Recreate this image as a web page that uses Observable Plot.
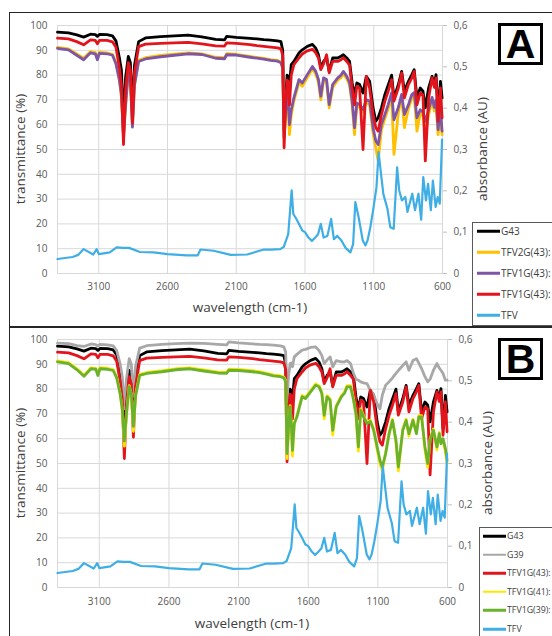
<!DOCTYPE html>
<html><head><meta charset="utf-8">
<script src="https://cdn.jsdelivr.net/npm/d3@7"></script>
<script src="https://cdn.jsdelivr.net/npm/@observablehq/plot@0.6"></script>
<style>
html,body{margin:0;padding:0;background:#fff;}
#root{position:relative;width:552px;height:636px;overflow:hidden;background:#fff;font-family:"Open Sans",sans-serif;}
.panel{position:absolute;border:1.5px solid #262626;box-sizing:border-box;}
.plotwrap{position:absolute;left:0;}
.title{position:absolute;font-size:13.5px;color:#404040;white-space:nowrap;transform:translate(-50%,-50%);}
.rot{transform:translate(-50%,-50%) rotate(-90deg);}
.letter{position:absolute;border:3px solid #000;box-sizing:border-box;background:#fff;font-family:"Liberation Sans",Arial,sans-serif;font-weight:bold;text-align:center;color:#000;}
.legend{position:absolute;border:1px solid #595959;background:#fff;box-sizing:border-box;}
.item{position:absolute;white-space:nowrap;color:#404040;transform:translateY(-50%);line-height:1.2;}
.swatch{position:absolute;height:2.5px;transform:translateY(-50%);}
</style></head><body><div id="root"></div>
<script>
// ---------- data ----------
const wavenumbers = [3400,3320,3260,3210,3160,3125,3110,3095,3040,3000,2975,2950,2935,2920,2905,2885,2870,2855,2840,2810,2760,2650,2550,2450,2350,2250,2185,2170,2100,2000,1950,1900,1850,1800,1775,
1762,1752,1742,1730,1723,1713,1700,1681,1644,1620,1583,1546,1522,1502,1485,1465,1443,1424,1399,1362,1338,1321,1296,1276,1257,1240,1223,1203,1178,1154,1130,1105,1085,1068,1044,1019,995,970,953,921,897,877,848,823,806,786,762,742,725,701,676,659,647,632,615,603];

const G43 = [97.3,97.0,96.2,95.3,96.5,96.3,95.6,96.4,96.3,95.8,93.8,87,82,60,79,87.5,85,65,84,93.5,95,95.5,95.8,96.1,95.4,94.4,94.2,95.6,95.2,94.8,94.6,94.3,94.1,93.8,93.5,
90,58,70,80,79.5,76,84.2,85.5,88.9,90.2,91.6,92.4,90.9,88.2,82.9,85.5,86.9,81.5,86.9,86.9,87.6,88.2,86.9,85.5,76.8,72,76.8,76.2,72.8,79.5,77.5,66.8,61.4,62.8,66.8,72.2,76,80,70.8,76.2,81.5,73.5,77.5,80.2,82.2,70.8,74.8,73.5,66.8,74.8,79.5,76.2,80.2,64.1,77.5,70.8];

const TFV1G43 = [94.9,94.6,93.5,92.2,94.2,94.0,92.6,94.0,94.0,93.4,91.2,83,76,52,74,85,82,60.6,81,91.5,92.5,92.8,93.0,93.2,92.6,91.8,91.7,93.0,92.8,92.3,91.9,91.6,91.3,91.0,90.6,
88,50.7,68,78,77.5,68,80,84.2,86.9,88.5,89.8,90.4,89,86.9,82.2,84.5,88.2,80.9,85.5,85.5,86.2,87,85.5,84,74.8,68,75.5,74.8,50,79.5,74.8,64.1,58.8,57.4,64.1,69.5,73.5,78.2,69.5,74.8,80.9,70.8,76.2,78.9,81.5,68,72.8,72,45.4,70.8,78.9,75,78.9,61.4,74.8,62.8];

const TFV1G43b = [90.8,90.2,88.0,86.2,89.0,88.6,86.2,88.8,88.6,88.0,84.6,78,72,55,68,81,78,59,76,85.5,86.5,87.4,88.0,88.6,88.3,86.8,86.6,88.2,88.1,87.2,86.8,86.4,85.9,85.6,85.0,
83,55,65,71.5,70,60,66,70.8,78.2,76.8,80.2,83.5,81.5,78.2,71.5,78.9,78.2,68.1,76.2,78.9,80,81.5,79.5,77,69.5,58.8,68.8,68.1,66.1,70.1,69.5,58.8,53.4,52,60.1,64.1,68.1,72.8,62,67,72.2,64.1,68,72.2,73,62.8,66,65,61.4,66,71,67,70,58,66,57.4];

const TFV2G43 = [91.2,90.6,88.5,86.8,89.5,89.1,86.8,89.3,89.0,88.4,85,78,71,56,67,81.5,78,60,76,86,87,87.9,88.5,89.0,88.6,87.2,87.0,88.6,88.4,87.5,87.1,86.7,86.2,85.9,85.3,
82.5,54,63,70,68,56,64,69.5,77,75.5,79,82.5,80.5,77,70,78,77,66.8,75,78,79,80.5,78.5,76,68,56,67.5,67,65,69,68,56.5,50.7,45.4,58,62.5,66.5,71.5,48,65,71,58.8,66.5,70.5,72,57.4,64.5,63.5,56,64,69.5,65.5,68.5,56,64,56];

const G39 = [98.5,98.3,97.5,97.2,98.2,97.9,97.4,98.0,97.8,97.4,95.5,90,85,72,84,92.3,90,77,89,96.5,97.5,98.0,98.3,98.5,98.4,98.0,97.8,99.0,98.6,98.2,98.0,97.9,97.7,97.4,97.0,
95,75,85,90.3,90.5,89,93,94,95.7,96,96.8,97,95.5,93.5,90.3,91.7,93,89,91.5,91,91,91.5,90.3,86.5,84,83.6,82.9,82.5,82.2,79.5,77.5,74,72.1,77.5,81.6,83,84.5,86.3,87.5,89.5,91,87.6,91.5,92.3,90.5,88.3,85,82.9,84,87.6,90.3,88.5,87.6,86.3,83.6,83.6];

const TFV1G41 = [91.4,90.7,88.2,85.6,88.6,88.4,85.9,88.6,88.4,87.9,84.9,78,71.5,57,69,81.4,78,63,77.4,85.9,86.7,87.4,88.2,88.6,87.7,86.9,86.8,88.0,87.9,87.4,87.0,86.4,85.7,85.4,84.9,
83.5,52,63,73.3,67.5,53,66.5,69.3,77.4,76.7,79.4,82.1,81.4,78.7,68,77.4,76,61.5,73.3,77.4,79,81.4,81.4,76.5,69.5,55,72,69.3,66.6,67.5,63.9,55.5,50,47,54.5,62.5,67.9,58.5,47,63.9,67.9,61,67.9,62.5,69.3,69.3,55.5,48.5,59.9,63.9,55.5,62.5,58.5,59,55,50];

const TFV1G39 = [91.0,90.3,87.8,85.2,88.2,88.0,85.5,88.2,88.0,87.5,84.5,78,72,59,70,81,78,65,77,85.5,86.3,87.0,87.8,88.2,87.3,86.5,86.4,87.6,87.5,87.0,86.6,86.0,85.3,85.0,84.5,
83,54,64,72.8,68,55.3,66,68.8,76.9,76.2,78.9,81.6,80.9,78.2,69.4,76.9,75.5,63.4,72.8,76.9,78.5,80.9,80.9,76,70.1,56.7,71.5,68.8,66.1,67,63.4,56.7,51.3,48.6,54,62,67.4,59.4,48.6,63.4,67.4,62,67.4,62,68.8,68.8,56.7,50,59.4,63.4,56.7,62,58,60,56,51.3];

// TFV absorbance (AU), secondary axis
const tfvWavenumbers = [3400,3290,3250,3210,3140,3115,3100,3020,2970,2925,2880,2800,2700,2600,2460,2380,2360,2265,2140,2020,1900,1850,1780,1755,1722,1697,1685,1670,1650,1620,1600,1575,1550,1525,1505,1485,1465,1437,1410,1390,1365,1335,1305,1270,1250,1234,1210,1180,1160,1145,1125,1105,1080,1065,1050,1030,1000,980,955,930,915,895,870,855,820,800,775,755,740,720,705,685,670,650,635,620,603];
const TFV = [0.035,0.040,0.045,0.059,0.046,0.059,0.047,0.051,0.063,0.062,0.062,0.052,0.051,0.047,0.044,0.044,0.058,0.055,0.045,0.046,0.058,0.058,0.059,0.064,0.095,0.201,0.144,0.136,0.124,0.104,0.100,0.087,0.079,0.087,0.095,0.120,0.087,0.091,0.132,0.083,0.091,0.080,0.062,0.051,0.071,0.173,0.136,0.080,0.068,0.080,0.112,0.152,0.209,0.294,0.249,0.192,0.156,0.112,0.108,0.257,0.201,0.177,0.185,0.149,0.193,0.153,0.193,0.130,0.233,0.177,0.217,0.153,0.225,0.161,0.185,0.169,0.324];

const xTicks = [3100,2600,2100,1600,1100,600];
const yTicks = [0,10,20,30,40,50,60,70,80,90,100];
const absTicks = [0,0.1,0.2,0.3,0.4,0.5,0.6];
const xDomain = [3400,600];
const absMax = 0.6;

const legendA = ["G43","TFV2G(43):","TFV1G(43):","TFV1G(43):","TFV"];
const legendB = ["G43","G39","TFV1G(43):","TFV1G(41):","TFV1G(39):","TFV"];

// ---------- styles ----------
const C = {black:"#000000", orange:"#FFC000", purple:"#7F56A5", red:"#E3141B", cyan:"#3FAEE4", gray:"#A8A8A8", yellow:"#FFE600", green:"#6AB22C"};

const seriesA = [
  {values:G43, color:C.black},
  {values:TFV2G43, color:C.orange},
  {values:TFV1G43b, color:C.purple},
  {values:TFV1G43, color:C.red}
];
const seriesB = [
  {values:G43, color:C.black},
  {values:G39, color:C.gray},
  {values:TFV1G43, color:C.red},
  {values:TFV1G41, color:C.yellow},
  {values:TFV1G39, color:C.green}
];

const fmtAbs = v => { const a = Math.round(v/100*absMax*10)/10; return a === 0 ? "0" : a.toFixed(1).replace(".", ","); };

function makePlot(series, width, marginRight, padX) {
  return Plot.plot({
    width, height: 300,
    marginLeft: 57, marginRight, marginTop: 25, marginBottom: 27,
    style: {background: "transparent", fontFamily: "'Open Sans', sans-serif", fontSize: "10px", color: "#595959", overflow: "visible", maxWidth: "none"},
    x: {domain: xDomain},
    y: {domain: [0, 100]},
    marks: [
      Plot.gridX(xTicks, {stroke: "#d9d9d9", strokeOpacity: 1}),
      Plot.gridY(yTicks, {stroke: "#d9d9d9", strokeOpacity: 1}),
      Plot.frame({stroke: "#d9d9d9"}),
      Plot.axisX(xTicks, {tickSize: 0, tickPadding: padX, label: null, tickFormat: d => String(d)}),
      Plot.axisY(yTicks, {anchor: "left", tickSize: 0, tickPadding: 10, label: null}),
      Plot.axisY(absTicks.map(a => a/absMax*100), {anchor: "right", tickSize: 4, tickPadding: 7, label: null, stroke: "#bfbfbf", tickFormat: fmtAbs}),
      ...series.map(s => Plot.line(wavenumbers, {x: wavenumbers, y: s.values, stroke: s.color, strokeWidth: 2.8, strokeLinejoin: "round"})),
      Plot.line(tfvWavenumbers, {x: tfvWavenumbers, y: TFV.map(a => a/absMax*100), stroke: C.cyan, strokeWidth: 2.2, strokeLinejoin: "round"})
    ]
  });
}

const root = document.getElementById("root");
function add(html) { root.insertAdjacentHTML("beforeend", html); }

// panel borders
add('<div class="panel" style="left:9px;top:12px;width:600px;height:315.5px"></div>');
add('<div class="panel" style="left:9px;top:326px;width:600px;height:400px"></div>');

// plots
const wA = document.createElement("div"); wA.className = "plotwrap"; wA.style.top = "0px";
wA.appendChild(makePlot(seriesA, 500, 58, 9)); root.appendChild(wA);
const wB = document.createElement("div"); wB.className = "plotwrap"; wB.style.top = "314px";
wB.appendChild(makePlot(seriesB, 505, 58, 10)); root.appendChild(wB);

// axis titles
add('<div class="title rot" style="left:20px;top:149px">transmittance (%)</div>');
add('<div class="title" style="left:250px;top:307px">wavelength (cm-1)</div>');
add('<div class="title rot" style="left:482px;top:149px">absorbance (AU)</div>');
add('<div class="title rot" style="left:20px;top:463px">transmittance (%)</div>');
add('<div class="title" style="left:252px;top:623px">wavelength (cm-1)</div>');
add('<div class="title rot" style="left:487px;top:463px">absorbance (AU)</div>');

// panel letters
add('<div class="letter" style="left:498px;top:23px;width:45px;height:42px;font-size:41px;line-height:36px">A</div>');
add('<div class="letter" style="left:498px;top:338px;width:45px;height:42px;font-size:41px;line-height:36px">B</div>');

// legends
function legend(left, top, height, labels, colors, step, first, fs, sx0, sx1, tx) {
  let h = `<div class="legend" style="left:${left}px;top:${top}px;width:200px;height:${height}px">`;
  labels.forEach((lab, i) => {
    const y = first + i*step;
    h += `<div class="swatch" style="left:${sx0}px;width:${sx1-sx0}px;top:${y}px;background:${colors[i]}"></div>`;
    h += `<div class="item" style="left:${tx}px;top:${y}px;font-size:${fs}px">${lab}</div>`;
  });
  h += '</div>';
  add(h);
}
legend(472, 222, 104, legendA, [C.black, C.orange, C.purple, C.red, C.cyan], 21, 8, 10, 4, 27, 28);
legend(479, 527, 200, legendB, [C.black, C.gray, C.red, C.yellow, C.green, C.cyan], 18.6, 8, 8.8, 3, 26, 27);
</script></body></html>
